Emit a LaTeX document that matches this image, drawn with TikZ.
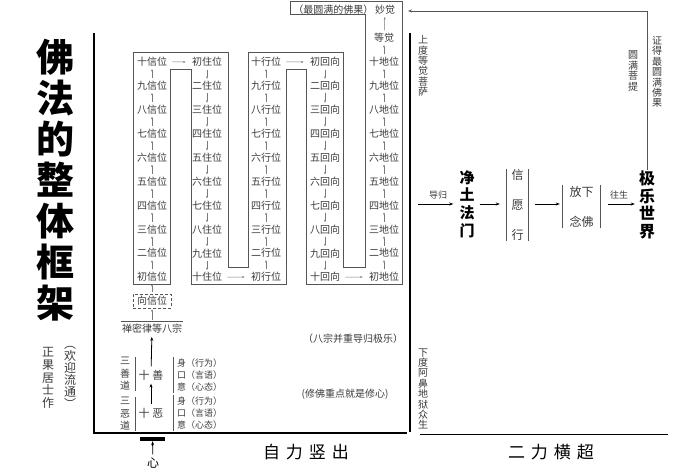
\documentclass[tikz,border=0pt]{standalone}
\usepackage{fontspec}
\setmainfont{Noto Sans CJK SC}
\usepackage{xcolor}
\usepackage{tikz}
\usetikzlibrary{arrows.meta}

\definecolor{inkgray}{HTML}{3A3A3A}
\definecolor{linegray}{HTML}{555555}
\definecolor{arrgray}{HTML}{7A7A7A}

\tikzset{
  stage/.style={font=\fontsize{10}{12}\selectfont, text=inkgray, inner sep=1.2pt},
  stagearr/.style={->, >={Stealth[length=2.5pt,width=2pt]}, arrgray, line width=0.5pt, shorten <=1.5pt, shorten >=1pt},
  flowarr/.style={->, >={Stealth[length=4pt,width=3pt]}, black, line width=0.8pt},
  vlabel/.style={align=center, text=inkgray, font=\fontsize{10}{10.4}\selectfont, inner sep=0pt},
  sidebar/.style={linegray, line width=0.7pt},
}

\begin{document}
\begin{tikzpicture}[x=1pt,y=-1pt]
\useasboundingbox (0,0) rectangle (700,470);

% Title and author
\node[font=\fontsize{38}{41}\selectfont\bfseries, align=center, inner sep=0pt] (title) at (55,180) {佛\\法\\的\\整\\体\\框\\架};
\node[vlabel, font=\fontsize{12}{12.7}\selectfont] (author) at (48,378) {正\\果\\居\\士\\作};
\node[vlabel, font=\fontsize{12}{12}\selectfont] (liutong) at (70,377) {︵\\欢\\迎\\流\\通\\︶};

% Brackets of the two ways
\draw[line width=1.1pt] (94,33) -- (94,433) -- (407,433);
\draw[line width=1.1pt] (410,33) -- (410,432);
\draw[line width=1pt] (420,434) -- (668,434);
\node[font=\fontsize{17}{17}\selectfont] (zili) at (306,452) {自\hspace{6pt}力\hspace{6pt}竖\hspace{6pt}出};
\node[font=\fontsize{17}{17}\selectfont] (erli) at (551,452) {二\hspace{6pt}力\hspace{6pt}横\hspace{6pt}超};

% Snake outline of the stages
\draw[linegray, line width=1pt] (133,284) -- (133,53) -- (228,53) -- (228,267) -- (248,267)
  -- (248,53) -- (343,53) -- (343,267) -- (365,267) -- (365,15) -- (290,15) -- (290,2)
  -- (402,2) -- (402,284) -- (306,284) -- (306,70) -- (286,70) -- (286,284) -- (191,284)
  -- (191,70) -- (170,70) -- (170,284) -- cycle;

% Stages
\foreach \n [count=\i] in {初,二,三,四,五,六,七,八,九,十} {
  \node[stage] (xin\i) at (152,{277-(\i-1)*23.9}) {{\n}信位};
  \node[stage] (zhu\i) at (207,{62+(\i-1)*23.9}) {{\n}住位};
  \node[stage] (xing\i) at (266,{277-(\i-1)*23.9}) {{\n}行位};
  \node[stage] (hui\i) at (325,{62+(\i-1)*23.9}) {{\n}回向};
  \node[stage] (di\i) at (384,{277-(\i-1)*23.9}) {{\n}地位};
}
\node[stage] (dengjue) at (384,38) {等觉};
\node[stage] (miaojue) at (385,10) {妙觉};
\node[stage, anchor=east, inner sep=0pt] (foguo) at (miaojue.west) {（最圆满的佛果）};

\foreach \i in {1,...,9} {
  \pgfmathtruncatemacro\j{\i+1}
  \draw[stagearr] (xin\i) -- (xin\j);
  \draw[stagearr] (zhu\i) -- (zhu\j);
  \draw[stagearr] (xing\i) -- (xing\j);
  \draw[stagearr] (hui\i) -- (hui\j);
  \draw[stagearr] (di\i) -- (di\j);
}
\draw[stagearr, shorten <=4pt, shorten >=5pt] (xin10) -- (zhu1);
\draw[stagearr, shorten <=4pt, shorten >=5pt] (zhu10) -- (xing1);
\draw[stagearr, shorten <=4pt, shorten >=5pt] (xing10) -- (hui1);
\draw[stagearr, shorten <=4pt, shorten >=5pt] (hui10) -- (di1);
\draw[stagearr] (di10) -- (dengjue);
\draw[stagearr] (dengjue) -- (miaojue);

% From the heart up to the stages
\node[stage, draw=linegray, densely dashed, minimum width=38pt, minimum height=14pt, inner sep=0pt] (xiangxin) at (152,301) {向信位};
\node[stage, inner ysep=3pt] (zongs) at (152,329) {禅密律等八宗};
\draw[sidebar] (zongs.north west) -- (zongs.north east);
\draw[stagearr] (zongs) -- (xiangxin);
\draw[stagearr] (xiangxin) -- (xin1);

\node[font=\fontsize{11}{11}\selectfont, text=inkgray] (shishan) at (151,375) {十\hspace{3pt}善};
\node[font=\fontsize{11}{11}\selectfont, text=inkgray] (shie) at (151,413) {十\hspace{3pt}恶};
\draw[flowarr] (shie) -- (shishan);
\draw[flowarr] (shishan) -- (zongs);

\node[vlabel, font=\fontsize{10}{12.5}\selectfont, inner xsep=5pt] (sanshan) at (125,374) {三\\善\\道};
\node[vlabel, font=\fontsize{10}{12.5}\selectfont, inner xsep=5pt] (sane) at (125,414) {三\\恶\\道};
\draw[sidebar] (sanshan.north east) -- (sanshan.south east);
\draw[sidebar] (sane.north east) -- (sane.south east);

\node[stage, align=left, anchor=west, font=\fontsize{9}{12}\selectfont, inner xsep=4pt] (sankou1) at (173,375) {身（行为）\\口（言语）\\意（心态）};
\node[stage, align=left, anchor=west, font=\fontsize{9}{12}\selectfont, inner xsep=4pt] (sankou2) at (173,413) {身（行为）\\口（言语）\\意（心态）};
\draw[sidebar] (sankou1.north west) -- (sankou1.south west);
\draw[sidebar] (sankou2.north west) -- (sankou2.south west);

\node[fill=black, minimum width=25pt, minimum height=4pt, inner sep=0pt] (heartbar) at (152.5,439) {};
\node[font=\fontsize{12}{12}\selectfont] (heart) at (153,463) {心};
\draw[flowarr] (heart) -- (heartbar);

% Notes
\node[stage] (bazong) at (353,339) {（八宗并重导归极乐）};
\node[stage] (xiuxin) at (345,394) {(修佛重点就是修心)};
\node[vlabel] (shangdu) at (423,66) {上\\度\\等\\觉\\菩\\萨};
\node[vlabel] (xiadu) at (423,389) {下\\度\\阿\\鼻\\地\\狱\\众\\生};
\node[vlabel] (zhengde) at (657,72) {证\\得\\最\\圆\\满\\佛\\果};
\node[vlabel] (yuanman) at (633,71) {圆\\满\\菩\\提};

% Pure Land way
\node[font=\fontsize{15}{17.7}\selectfont\bfseries, align=center, inner sep=1pt] (jingtu) at (467,204) {净\\土\\法\\门};
\node[font=\fontsize{12}{30}\selectfont, text=inkgray, align=center, minimum width=21pt, inner sep=0pt] (xinyuan) at (517.5,205) {信\\愿\\行};
\draw[sidebar] (xinyuan.north west) -- (xinyuan.south west);
\draw[sidebar] (xinyuan.north east) -- (xinyuan.south east);
\node[font=\fontsize{12}{30}\selectfont, text=inkgray, align=center, minimum width=37pt, minimum height=43pt, inner sep=0pt] (fangxia) at (581.5,206.5) {放下\\念佛};
\draw[sidebar] (fangxia.north west) -- (fangxia.south west);
\draw[sidebar] (fangxia.north east) -- (fangxia.south east);
\node[font=\fontsize{16}{17.5}\selectfont\bfseries, align=center, inner sep=1pt] (jile) at (647,205) {极\\乐\\世\\界};

\coordinate (guiL) at (418,204);
\draw[flowarr, shorten >=5pt] (guiL) -- (guiL -| jingtu.west) node[midway, above=1pt, font=\fontsize{9}{9}\selectfont, text=inkgray] (daogui) {导归};
\draw[flowarr, shorten <=4pt, shorten >=7pt] (jingtu.east) -- (jingtu.east -| xinyuan.west);
\draw[flowarr, shorten <=7pt, shorten >=3pt] (jingtu.east -| xinyuan.east) -- (jingtu.east -| fangxia.west);
\draw[flowarr, shorten <=8pt, shorten >=3pt] (jingtu.east -| fangxia.east) -- (jingtu.east -| jile.west)
  node[midway, above=1pt, font=\fontsize{9}{9}\selectfont, text=inkgray] (wangsheng) {往生};

% Back to the top
\coordinate (miaoR) at (408,11);
\draw[flowarr, line width=0.7pt, linegray] (jile.north) |- (miaoR);
\end{tikzpicture}
\end{document}
